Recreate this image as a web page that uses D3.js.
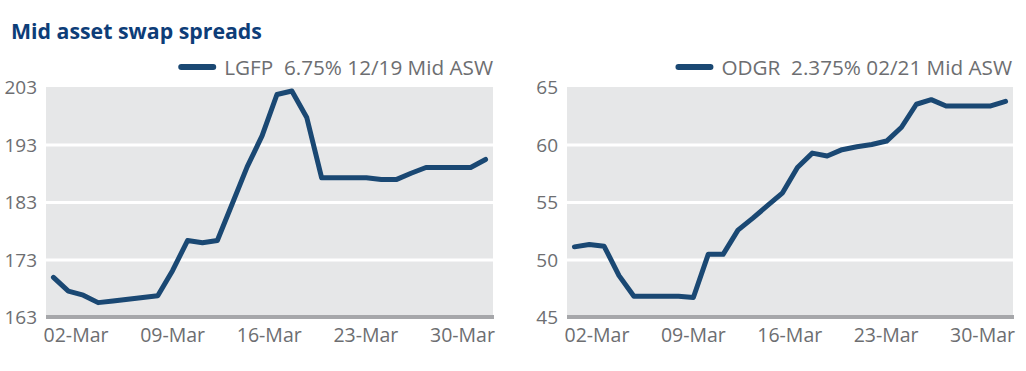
<!DOCTYPE html>
<html>
<head>
<meta charset="utf-8">
<script src="https://d3js.org/d3.v7.min.js"></script>
<style>
  body { margin: 0; background: #fff; }
  svg text { font-family: "Open Sans", sans-serif; }
  .yaxis .tick text { fill: #6d6e71; font-size: 19px; }
  .xaxis .tick text { fill: #6d6e71; font-size: 19.5px; }
  .legend text { fill: #6d6e71; font-size: 20.7px; }
</style>
</head>
<body>
<svg id="chart" width="1026" height="371"></svg>
<script>
const seriesNames = ['LGFP  6.75% 12/19 Mid ASW', 'ODGR  2.375% 02/21 Mid ASW'];

// daily mid ASW readings, late Feb .. 31-Mar
const lgfpValues = [169.9, 167.5, 166.8, 165.5, 165.8, 166.1, 166.4, 166.7, 171.1, 176.3,
                    175.9, 176.3, 182.7, 189.1, 194.5, 201.7, 202.3, 197.7, 187.2, 187.2,
                    187.2, 187.2, 186.9, 186.9, 188.0, 189.0, 189.0, 189.0, 189.0, 190.4];
const odgrValues = [51.1, 51.3, 51.15, 48.6, 46.8, 46.8, 46.8, 46.8, 46.7, 50.45,
                    50.45, 52.55, 53.6, 54.7, 55.8, 58.0, 59.25, 59.0, 59.55, 59.8,
                    60.0, 60.3, 61.5, 63.5, 63.9, 63.35, 63.35, 63.35, 63.35, 63.75];

const lgfpTicks = [163, 173, 183, 193, 203];
const odgrTicks = [45, 50, 55, 60, 65];
const dateTicks = ['2020-03-02', '2020-03-09', '2020-03-16', '2020-03-23', '2020-03-30'];
const axisSpan = ['2020-02-28T20:40', '2020-04-01T06:00'];

const svg = d3.select('#chart');

svg.append('text')
  .attr('x', 11).attr('y', 39)
  .attr('fill', '#0d3d78')
  .attr('font-size', 21.3).attr('font-weight', 700)
  .text('Mid asset swap spreads');

const panels = [
  { name: seriesNames[0], values: lgfpValues, ticks: lgfpTicks, left: 46, right: 493, legendEnd: 493 },
  { name: seriesNames[1], values: odgrValues, ticks: odgrTicks, left: 567, right: 1013, legendEnd: 1012 }
];
const plotTop = 87, plotBottom = 317;
const parse = d3.timeParse('%Y-%m-%dT%H:%M');
const parseDay = d3.timeParse('%Y-%m-%d');

panels.forEach(p => {
  const w = p.right - p.left, h = plotBottom - plotTop;
  const g = svg.append('g').attr('transform', `translate(${p.left},${plotTop})`);

  const y = d3.scaleLinear().domain(d3.extent(p.ticks)).range([h, 0]);
  const xi = d3.scalePoint().domain(d3.range(p.values.length)).range([0, w]).padding(0.5);
  const xt = d3.scaleTime().domain(axisSpan.map(parse)).range([0, w]);

  g.append('rect').attr('width', w).attr('height', h).attr('fill', '#e6e7e8');

  // white gridlines
  const grid = g.append('g')
    .call(d3.axisLeft(y).tickValues(p.ticks.slice(1, -1)).tickSize(-w).tickFormat(''));
  grid.select('.domain').remove();
  grid.selectAll('line').attr('stroke', '#fff').attr('stroke-width', 3);

  // y labels
  const ya = g.append('g').attr('class', 'yaxis')
    .call(d3.axisLeft(y).tickValues(p.ticks).tickSize(0).tickPadding(9));
  ya.select('.domain').remove();
  ya.selectAll('text').attr('dy', '0.36em');

  // x axis
  const xa = g.append('g').attr('class', 'xaxis').attr('transform', `translate(0,${h})`)
    .call(d3.axisBottom(xt).tickValues(dateTicks.map(parseDay))
      .tickFormat(d3.timeFormat('%d-%b')).tickSize(0).tickPadding(11));
  xa.select('.domain').remove();
  g.append('line').attr('x1', 0).attr('x2', w + 1).attr('y1', h).attr('y2', h)
    .attr('stroke', '#a6a7aa').attr('stroke-width', 4);

  g.append('path')
    .datum(p.values)
    .attr('fill', 'none')
    .attr('stroke', '#1a4873')
    .attr('stroke-width', 5)
    .attr('stroke-linejoin', 'round')
    .attr('stroke-linecap', 'round')
    .attr('d', d3.line().x((d, i) => xi(i)).y(d => y(d)));

  // legend
  const lg = svg.append('g').attr('class', 'legend');
  const t = lg.append('text')
    .attr('x', p.legendEnd).attr('y', 75)
    .attr('text-anchor', 'end')
    .text(p.name)
    .style('white-space', 'pre');
  const tw = t.node().getComputedTextLength();
  const sx = p.legendEnd - tw - 11;
  lg.append('line')
    .attr('x1', sx - 32).attr('x2', sx)
    .attr('y1', 67).attr('y2', 67)
    .attr('stroke', '#1a4873').attr('stroke-width', 6)
    .attr('stroke-linecap', 'round');
});
</script>
</body>
</html>
